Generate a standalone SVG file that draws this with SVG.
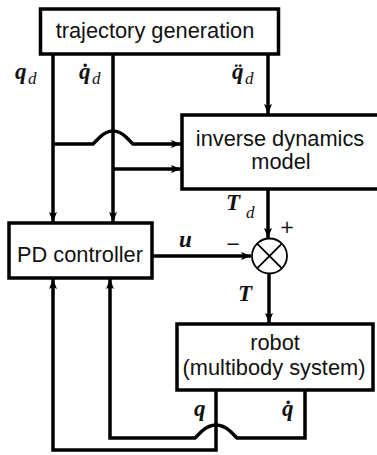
<svg xmlns="http://www.w3.org/2000/svg" width="377" height="455" viewBox="0 0 377 455">
<style>
.box{fill:#fff;stroke:#000;stroke-width:3.5}
.lbl{font-family:"Liberation Sans",Arial,sans-serif;font-size:21.8px;fill:#111;text-anchor:middle}
.con{fill:none;stroke:#000;stroke-width:3.5}
.m{font-family:"Liberation Serif","DejaVu Serif",serif;font-style:italic;font-weight:bold;font-size:23px;fill:#111}
.s{font-family:"Liberation Serif","DejaVu Serif",serif;font-style:italic;font-size:17px;fill:#111}
.sign{font-family:"DejaVu Sans",sans-serif;font-size:18px;fill:#111;text-anchor:middle}
</style>
<defs>
<marker id="ah" viewBox="0 0 10 8" refX="10" refY="4" markerWidth="10" markerHeight="8" markerUnits="userSpaceOnUse" orient="auto">
<path d="M0,0 L10,4 L0,8 L2,4 Z" fill="#000"/>
</marker>
</defs>
<g id="connectors">
<path class="con" d="M53,54 V222" marker-end="url(#ah)"/>
<path class="con" d="M113,54 V222" marker-end="url(#ah)"/>
<path class="con" d="M268,54 V114" marker-end="url(#ah)"/>
<path class="con" d="M53,144 H93 L100,137 Q113,125 126,137 L133,144 H181" marker-end="url(#ah)"/>
<path class="con" d="M113,169 H181" marker-end="url(#ah)"/>
<path class="con" d="M268,189 V238" marker-end="url(#ah)"/>
<path class="con" d="M152,256 H251" marker-end="url(#ah)"/>
<path class="con" d="M269,273 V323" marker-end="url(#ah)"/>
<path class="con" d="M216,390 V450 H53 V279" marker-end="url(#ah)"/>
<path class="con" d="M305,390 V438 H237 L230,431 Q216,419 202,431 L195,438 H110 V279" marker-end="url(#ah)"/>
</g>
<g id="trajectory-generation">
<rect class="box" x="40.5" y="9" width="238" height="45"/>
<text class="lbl" x="155" y="38">trajectory generation</text>
</g>
<g id="inverse-dynamics-model">
<rect class="box" x="182" y="115" width="197" height="74"/>
<text class="lbl" x="280" y="146">inverse dynamics</text>
<text class="lbl" x="281" y="169">model</text>
</g>
<g id="pd-controller">
<rect class="box" x="9" y="223" width="143" height="55"/>
<text class="lbl" x="80" y="262">PD controller</text>
</g>
<g id="summation">
<circle cx="269.5" cy="256" r="17.5" fill="#fff" stroke="#000" stroke-width="1.8"/>
<path d="M257.1,243.6 L281.9,268.4 M281.9,243.6 L257.1,268.4" stroke="#000" stroke-width="1.8"/>
</g>
<g id="robot">
<rect class="box" x="177" y="324" width="196" height="66"/>
<text class="lbl" x="275" y="350">robot</text>
<text class="lbl" x="274" y="375">(multibody system)</text>
</g>
<g id="labels">
<text class="m" x="15" y="79">q</text><text class="s" x="28" y="84">d</text>
<text class="m" x="79" y="79">q̇</text><text class="s" x="92" y="84">d</text>
<text class="m" x="232" y="79">q̈</text><text class="s" x="245" y="84">d</text>
<text class="m" x="226" y="210">T</text><text class="s" x="246" y="218">d</text>
<text class="m" x="179" y="247">u</text>
<text class="sign" x="233" y="250">−</text>
<text class="sign" x="287" y="233">+</text>
<text class="m" x="238" y="301">T</text>
<text class="m" x="194" y="416">q</text>
<text class="m" x="282" y="416">q̇</text>
</g>
</svg>
